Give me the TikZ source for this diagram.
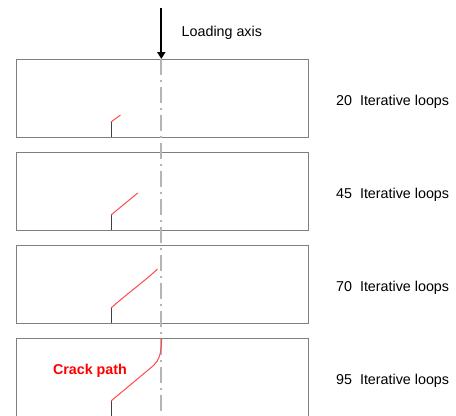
\documentclass[tikz,border=0pt]{standalone}
\usepackage{fontspec}
\setmainfont{Liberation Sans}
\usetikzlibrary{arrows.meta}
\definecolor{frame}{HTML}{7F7F7F}
\definecolor{axisgray}{HTML}{B4B4B4}
\definecolor{crackred}{HTML}{FF4A4A}
\tikzset{
  specimen/.style={draw=frame, line width=1bp},
  notch/.style={draw=black!75, line width=1bp},
  crack/.style={draw=crackred, line width=1bp},
  axisline/.style={draw=axisgray, line width=1.8bp, dash pattern=on 16bp off 5bp on 2bp off 5bp},
  loadarrow/.style={draw=black, line width=1.8bp, -{Triangle[length=7bp,width=8bp]}},
  looplabel/.style={anchor=base west, inner sep=0pt, font=\fontsize{14.3bp}{16bp}\selectfont},
}
\begin{document}
\begin{tikzpicture}[x=1bp, y=-1bp]
  \useasboundingbox (0,0) rectangle (456,415);
  \clip (0,0) rectangle (456,415);

  % four specimens, one per stage of the crack growth
  \foreach \top in {59,152,245,338}
    \draw[specimen] (16,\top) rectangle (308,\top+78);

  % loading axis through the middle of each specimen
  \coordinate (axtop) at (161.3,59);
  \coordinate (axbot) at (161.3,416);
  \draw[axisline] (axtop) -- (axbot);

  % load arrow
  \coordinate (loadstart) at (161.3,8);
  \draw[loadarrow] (loadstart) -- (axtop);
  \node[looplabel] (loadlbl) at (181.5,36) {Loading axis};

  % initial notches
  \foreach \bot in {137,230,323,416}
    \draw[notch] (111,\bot) -- (111,\bot-15);

  % crack path after each number of iterations
  \draw[crack] (111,122) -- (120.5,115);
  \draw[crack] (111,215) -- (137.7,193);
  \draw[crack] (111,308) .. controls (128,293) and (146,280) .. (157.5,269);
  \draw[crack] (111,401) -- (153.5,365.5)
    .. controls (159,360.5) and (161.6,353) .. (161.6,338);

  \node[anchor=base, inner sep=0pt, text=red,
        font=\fontsize{14.3bp}{16bp}\selectfont\bfseries] (cracklbl) at (90,374.3) {Crack path};

  % iteration counts
  \node[looplabel] (l20) at (336,105.3) {20~~Iterative loops};
  \node[looplabel] (l45) at (336,198.3) {45~~Iterative loops};
  \node[looplabel] (l70) at (336,291.3) {70~~Iterative loops};
  \node[looplabel] (l95) at (336,384.3) {95~~Iterative loops};
\end{tikzpicture}
\end{document}
